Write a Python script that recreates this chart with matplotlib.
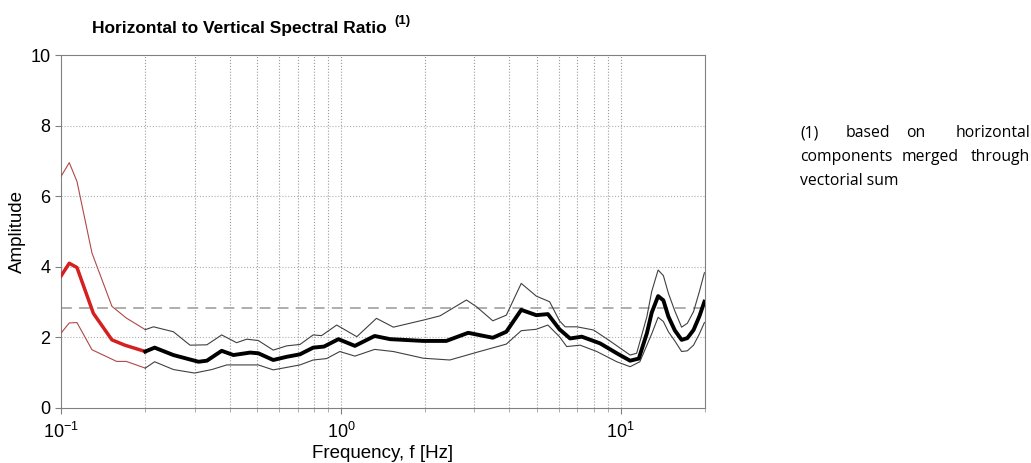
import matplotlib
matplotlib.use("Agg")
from matplotlib import pyplot as plt

plt.rcParams['font.family'] = ['Liberation Sans', 'DejaVu Sans']
plt.rcParams['mathtext.fontset'] = 'custom'
plt.rcParams['mathtext.rm'] = 'Liberation Sans'
plt.rcParams['mathtext.it'] = 'Liberation Sans:italic'

# red part (f < 0.2 Hz)
f_red = [0.100, 0.107, 0.114, 0.1305, 0.152, 0.169, 0.200]
hv_red = [3.74, 4.10, 3.98, 2.68, 1.93, 1.78, 1.60]
f_red_up = [0.100, 0.107, 0.114, 0.129, 0.152, 0.171, 0.200]
hv_red_up = [6.56, 6.95, 6.42, 4.39, 2.88, 2.55, 2.22]
f_red_lo = [0.100, 0.107, 0.114, 0.129, 0.158, 0.171, 0.200]
hv_red_lo = [2.12, 2.41, 2.42, 1.65, 1.32, 1.32, 1.13]

# mean H/V curve
f_mean = [0.200, 0.216, 0.252, 0.310, 0.332, 0.375, 0.413, 0.474, 0.507, 0.573,
          0.640, 0.714, 0.796, 0.870, 0.980, 1.122, 1.32, 1.50, 1.97, 2.38,
          2.85, 3.49, 3.90, 4.41, 4.99, 5.49, 6.04, 6.59, 7.26, 8.44, 9.68,
          10.8, 11.6, 12.4, 12.9, 13.6, 14.2, 14.8, 15.6, 16.5, 17.3, 18.2,
          19.1, 19.9]
hv_mean = [1.60, 1.71, 1.50, 1.31, 1.34, 1.62, 1.50, 1.57, 1.55, 1.36,
           1.45, 1.52, 1.71, 1.74, 1.95, 1.76, 2.04, 1.95, 1.90, 1.90,
           2.13, 1.99, 2.16, 2.78, 2.63, 2.66, 2.23, 1.97, 2.02, 1.83, 1.55,
           1.34, 1.40, 2.12, 2.70, 3.17, 3.05, 2.59, 2.20, 1.93, 1.98, 2.21,
           2.60, 3.01]

# mean + std
f_up = [0.200, 0.214, 0.252, 0.289, 0.332, 0.375, 0.424, 0.461, 0.507, 0.573,
        0.640, 0.714, 0.796, 0.853, 0.966, 1.14, 1.34, 1.54, 1.97, 2.26,
        2.81, 3.05, 3.49, 3.90, 4.41, 4.99, 5.57, 6.04, 6.33, 6.97, 7.99,
        9.03, 10.8, 11.4, 12.4, 12.9, 13.6, 14.2, 14.8, 15.6, 16.5, 17.3,
        18.2, 19.1, 19.9]
hv_up = [2.22, 2.30, 2.16, 1.78, 1.79, 2.07, 1.85, 1.95, 1.91, 1.64,
         1.76, 1.80, 2.07, 2.05, 2.35, 2.02, 2.54, 2.29, 2.49, 2.61,
         3.06, 2.87, 2.47, 2.63, 3.53, 3.17, 3.01, 2.47, 2.30, 2.30, 2.21,
         1.93, 1.50, 1.55, 2.59, 3.30, 3.91, 3.75, 3.25, 2.75, 2.29, 2.40,
         2.73, 3.30, 3.83]

# mean - std
f_lo = [0.200, 0.216, 0.252, 0.300, 0.346, 0.391, 0.474, 0.507, 0.573, 0.640,
        0.714, 0.796, 0.889, 0.991, 1.122, 1.32, 1.54, 1.97, 2.45, 3.13,
        3.90, 4.41, 4.99, 5.49, 6.04, 6.41, 7.16, 8.21, 9.68, 10.8, 11.7,
        12.9, 13.6, 14.2, 14.8, 15.6, 16.5, 17.3, 18.2, 19.1, 19.9]
hv_lo = [1.13, 1.31, 1.09, 0.99, 1.09, 1.22, 1.22, 1.22, 1.08, 1.15,
         1.22, 1.36, 1.40, 1.60, 1.47, 1.66, 1.60, 1.41, 1.36, 1.60,
         1.81, 2.19, 2.23, 2.35, 2.02, 1.74, 1.78, 1.60, 1.31, 1.17, 1.31,
         2.10, 2.57, 2.45, 2.16, 1.90, 1.60, 1.62, 1.78, 2.10, 2.42]

threshold = 2.82
grid_f = [0.2, 0.3, 0.4, 0.5, 0.6, 0.7, 0.8, 0.9, 1, 2, 3, 4, 5, 6, 7, 8, 9, 10]

fig = plt.figure(figsize=(10.31, 4.63), dpi=100)
ax = fig.add_axes([0.0592, 0.1188, 0.6246, 0.7624])

for g in grid_f:
    ax.axvline(g, color='#9a9a9a', lw=0.8, ls=':', zorder=1)
for g in [2, 4, 6, 8]:
    ax.axhline(g, color='#b0b0b0', lw=0.8, ls=':', zorder=1)
ax.axhline(threshold, color='#a8a8a8', lw=1.3, ls=(0, (6, 4)), zorder=2)

ax.plot(f_red_up, hv_red_up, color='#b04848', lw=0.8, zorder=3)
ax.plot(f_red_lo, hv_red_lo, color='#b04848', lw=0.8, zorder=3)
ax.plot(f_red, hv_red, color='#d42020', lw=2.5, zorder=4)
ax.plot(f_up, hv_up, color='#404040', lw=0.8, zorder=3)
ax.plot(f_lo, hv_lo, color='#404040', lw=0.8, zorder=3)
ax.plot(f_mean, hv_mean, color='black', lw=2.8, zorder=4)

ax.set_xscale('log')
ax.set_xlim(0.1, 20)
ax.set_ylim(0, 10)
ax.set_yticks([0, 2, 4, 6, 8, 10])
ax.set_xticks([0.1, 1, 10])
ax.set_xticklabels(['$10^{-1}$', '$10^{0}$', '$10^{1}$'])
ax.tick_params(axis='both', labelsize=13, color='#808080', length=4)
ax.tick_params(axis='x', pad=6)
ax.tick_params(axis='x', which='minor', length=3, color='#a0a0a0')
for s in ax.spines.values():
    s.set_color('#808080')

ax.set_xlabel('Frequency, f [Hz]', fontsize=13.5, labelpad=2)
ax.set_ylabel('Amplitude', fontsize=13.5, labelpad=3)

fig.text(92 / 1031, 1 - 28 / 463, 'Horizontal to Vertical Spectral Ratio',
         fontsize=12.5, fontweight='bold', va='center', ha='left')
fig.text(394 / 1031, 1 - 21 / 463, '(1)', fontsize=9.5, fontweight='bold',
         va='center', ha='left')

nf = ['Open Sans', 'DejaVu Sans']
fs = 11.3
y1 = 1 - 133 / 463
y2 = 1 - 157 / 463
y3 = 1 - 181 / 463
fig.text(800 / 1031, y1, '(1)', fontsize=fs, family=nf, va='center', ha='left')
fig.text(846 / 1031, y1, 'based', fontsize=fs, family=nf, va='center', ha='left')
fig.text(906 / 1031, y1, 'on', fontsize=fs, family=nf, va='center', ha='left')
fig.text(1030 / 1031, y1, 'horizontal', fontsize=fs, family=nf, va='center', ha='right')
fig.text(800 / 1031, y2, 'components', fontsize=fs, family=nf, va='center', ha='left')
fig.text(930 / 1031, y2, 'merged', fontsize=fs, family=nf, va='center', ha='center')
fig.text(1030 / 1031, y2, 'through', fontsize=fs, family=nf, va='center', ha='right')
fig.text(800 / 1031, y3, 'vectorial sum', fontsize=fs, family=nf, va='center', ha='left')

fig.savefig('out.png', dpi=100)
